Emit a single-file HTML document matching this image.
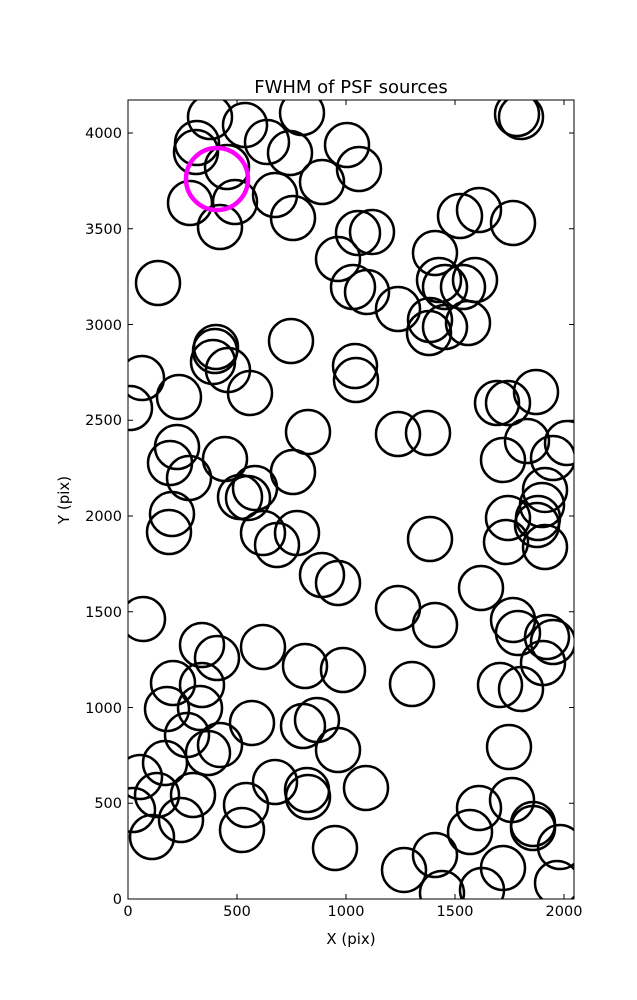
<!DOCTYPE html>
<html><head><style>body{margin:0;background:#fff}svg{display:block}text{font-family:"DejaVu Sans","Liberation Sans",sans-serif;fill:#000}</style></head><body>
<svg width="637" height="1000" viewBox="0 0 637 1000" xmlns="http://www.w3.org/2000/svg">
<defs><clipPath id="c"><rect x="128" y="100" width="446" height="799"/></clipPath></defs>
<g clip-path="url(#c)" fill="none" stroke="#000" stroke-width="2.5">
<g id="cs">
<circle cx="210" cy="117" r="22"/><circle cx="197" cy="143" r="22"/><circle cx="196" cy="152" r="22"/><circle cx="245" cy="125" r="22"/><circle cx="267" cy="142" r="22"/><circle cx="302" cy="113" r="22"/><circle cx="290" cy="153" r="22"/><circle cx="227" cy="167" r="22"/><circle cx="190" cy="203" r="22"/><circle cx="235" cy="202" r="22"/><circle cx="220" cy="227" r="22"/><circle cx="275" cy="195" r="22"/><circle cx="293" cy="218" r="22"/><circle cx="322" cy="182" r="22"/><circle cx="347" cy="145" r="22"/><circle cx="359" cy="169" r="22"/><circle cx="517" cy="114" r="22"/><circle cx="521" cy="117" r="22"/>
<circle cx="158" cy="283" r="22"/><circle cx="358" cy="233" r="22"/><circle cx="372" cy="232" r="22"/><circle cx="338" cy="259" r="22"/><circle cx="353" cy="287" r="22"/><circle cx="367" cy="292" r="22"/><circle cx="398" cy="309" r="22"/><circle cx="435" cy="253" r="22"/><circle cx="439" cy="280" r="22"/><circle cx="445" cy="287" r="22"/><circle cx="463" cy="287" r="22"/><circle cx="475" cy="280" r="22"/><circle cx="460" cy="216" r="22"/><circle cx="479" cy="210" r="22"/><circle cx="513" cy="223" r="22"/><circle cx="430" cy="320" r="22"/><circle cx="429" cy="333" r="22"/><circle cx="445" cy="327" r="22"/><circle cx="468" cy="323" r="22"/><circle cx="291" cy="341" r="22"/><circle cx="216" cy="347" r="22"/><circle cx="215" cy="351" r="22"/><circle cx="228" cy="370" r="22"/><circle cx="142" cy="378" r="22"/><circle cx="130" cy="408" r="22"/><circle cx="355" cy="366" r="22"/><circle cx="356" cy="380" r="22"/>
<circle cx="179" cy="397" r="22"/><circle cx="213" cy="362" r="22"/><circle cx="250" cy="393" r="22"/><circle cx="308" cy="432" r="22"/><circle cx="398" cy="434" r="22"/><circle cx="428" cy="433" r="22"/><circle cx="497" cy="403" r="22"/><circle cx="508" cy="403" r="22"/><circle cx="536" cy="392" r="22"/><circle cx="527" cy="441" r="22"/><circle cx="567" cy="443" r="22"/><circle cx="503" cy="460" r="22"/><circle cx="553" cy="458" r="22"/><circle cx="177" cy="447" r="22"/><circle cx="170" cy="463" r="22"/><circle cx="189" cy="478" r="22"/><circle cx="225" cy="459" r="22"/><circle cx="293" cy="472" r="22"/><circle cx="255" cy="488" r="22"/><circle cx="240" cy="497" r="22"/><circle cx="248" cy="498" r="22"/><circle cx="172" cy="514" r="22"/><circle cx="169" cy="532" r="22"/><circle cx="263" cy="533" r="22"/><circle cx="277" cy="545" r="22"/><circle cx="297" cy="533" r="22"/><circle cx="322" cy="575" r="22"/><circle cx="338" cy="583" r="22"/><circle cx="430" cy="539" r="22"/><circle cx="545" cy="490" r="22"/><circle cx="508" cy="518" r="22"/><circle cx="538" cy="518" r="22"/><circle cx="537" cy="525" r="22"/><circle cx="542" cy="505" r="22"/><circle cx="506" cy="542" r="22"/><circle cx="545" cy="547" r="22"/><circle cx="481" cy="588" r="22"/><circle cx="143" cy="619" r="22"/><circle cx="398" cy="608" r="22"/><circle cx="435" cy="625" r="22"/><circle cx="513" cy="620" r="22"/><circle cx="518" cy="633" r="22"/><circle cx="547" cy="637" r="22"/><circle cx="553" cy="642" r="22"/>
<circle cx="202" cy="645" r="22"/><circle cx="217" cy="658" r="22"/><circle cx="263" cy="647" r="22"/><circle cx="305" cy="666" r="22"/><circle cx="343" cy="670" r="22"/><circle cx="173" cy="683" r="22"/><circle cx="202" cy="685" r="22"/><circle cx="167" cy="709" r="22"/><circle cx="200" cy="708" r="22"/><circle cx="187" cy="735" r="22"/><circle cx="252" cy="723" r="22"/><circle cx="303" cy="726" r="22"/><circle cx="317" cy="720" r="22"/><circle cx="338" cy="750" r="22"/><circle cx="220" cy="745" r="22"/><circle cx="208" cy="753" r="22"/><circle cx="165" cy="763" r="22"/><circle cx="140" cy="777" r="22"/><circle cx="157" cy="795" r="22"/><circle cx="193" cy="795" r="22"/><circle cx="133" cy="810" r="22"/><circle cx="181" cy="820" r="22"/><circle cx="152" cy="837" r="22"/><circle cx="275" cy="782" r="22"/><circle cx="307" cy="790" r="22"/><circle cx="308" cy="797" r="22"/><circle cx="246" cy="805" r="22"/><circle cx="242" cy="830" r="22"/><circle cx="366" cy="788" r="22"/><circle cx="335" cy="848" r="22"/><circle cx="412" cy="684" r="22"/><circle cx="500" cy="685" r="22"/><circle cx="521" cy="689" r="22"/><circle cx="543" cy="663" r="22"/><circle cx="509" cy="747" r="22"/><circle cx="479" cy="808" r="22"/><circle cx="512" cy="800" r="22"/><circle cx="470" cy="832" r="22"/><circle cx="533" cy="828" r="22"/><circle cx="533" cy="824" r="22"/><circle cx="560" cy="847" r="22"/><circle cx="435" cy="855" r="22"/><circle cx="404" cy="870" r="22"/><circle cx="442" cy="893" r="22"/><circle cx="482" cy="890" r="22"/><circle cx="503" cy="868" r="22"/><circle cx="557" cy="883" r="22"/>
</g>
<circle cx="217" cy="179" r="31" stroke="#f0f" stroke-width="4.5"/>
</g>
<rect x="128" y="100" width="446" height="799" fill="none" stroke="#000" stroke-width="1"/>
<g stroke="#000" stroke-width="1">
<path d="M128 899v-5M237 899v-5M346 899v-5M455 899v-5M564 899v-5M128 100v5M237 100v5M346 100v5M455 100v5M564 100v5"/>
<path d="M128 899h5M128 803.3h5M128 707.5h5M128 611.8h5M128 516h5M128 420.3h5M128 324.5h5M128 228.8h5M128 133h5M574 899h-5M574 803.3h-5M574 707.5h-5M574 611.8h-5M574 516h-5M574 420.3h-5M574 324.5h-5M574 228.8h-5M574 133h-5"/>
</g>
<g font-size="14.5" text-anchor="middle">
<text x="128" y="916">0</text><text x="237" y="916">500</text><text x="346" y="916">1000</text><text x="455" y="916">1500</text><text x="564" y="916">2000</text>
</g>
<g font-size="14.5" text-anchor="end">
<text x="122" y="904">0</text><text x="122" y="808">500</text><text x="122" y="713">1000</text><text x="122" y="617">1500</text><text x="122" y="521">2000</text><text x="122" y="425">2500</text><text x="122" y="330">3000</text><text x="122" y="234">3500</text><text x="122" y="138">4000</text>
</g>
<text x="351" y="93" font-size="18" text-anchor="middle">FWHM of PSF sources</text>
<text x="351" y="944" font-size="15" text-anchor="middle">X (pix)</text>
<text transform="translate(69,500) rotate(-90)" font-size="15" text-anchor="middle">Y (pix)</text>
</svg>
</body></html>
